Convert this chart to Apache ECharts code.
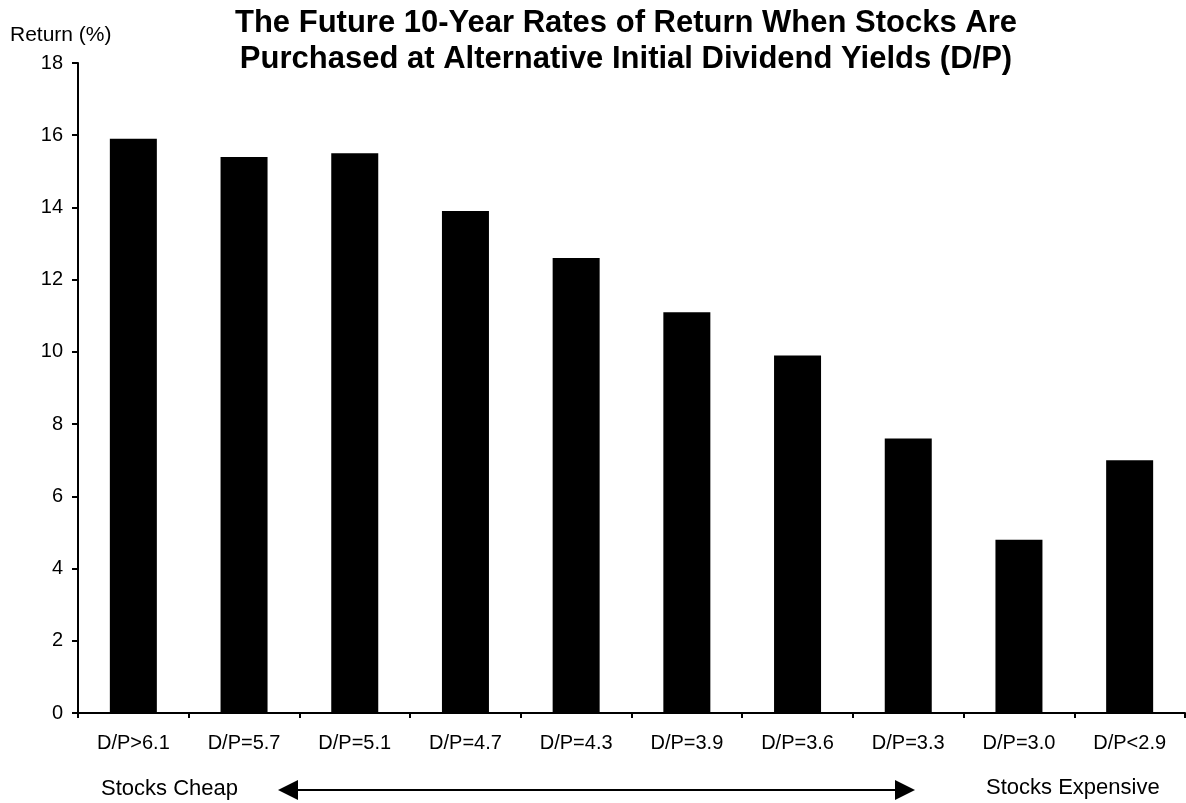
<!DOCTYPE html>
<html>
<head>
    <meta charset="UTF-8">
    <title>Returns by initial D/P</title>
    <script src="https://cdn.jsdelivr.net/npm/echarts@6/dist/echarts.min.js"></script>
    <style>
        html, body { margin: 0; padding: 0; background: #fff; }
        #chart { width: 1186px; height: 803px; }
    </style>
</head>
<body>
<div id="chart"></div>
<script>
    // data
    var categories = ['D/P>6.1', 'D/P=5.7', 'D/P=5.1', 'D/P=4.7', 'D/P=4.3',
                      'D/P=3.9', 'D/P=3.6', 'D/P=3.3', 'D/P=3.0', 'D/P<2.9'];
    var returns = [15.9, 15.4, 15.5, 13.9, 12.6, 11.1, 9.9, 7.6, 4.8, 7.0];
    var titleLines = ['The Future 10-Year Rates of Return When Stocks Are',
                      'Purchased at Alternative Initial Dividend Yields (D/P)'];

    var font = '"Liberation Sans", Arial, sans-serif';
    var chart = echarts.init(document.getElementById('chart'));

    var option = {
        backgroundColor: '#fff',
        animation: false,
        title: {
            text: titleLines.join('\n'),
            left: 626,
            textAlign: 'center',
            top: 5,
            padding: 0,
            textStyle: {
                fontFamily: font,
                fontSize: 31,
                fontWeight: 'bold',
                lineHeight: 36,
                color: '#000'
            }
        },
        grid: { left: 78, right: 1, top: 63, bottom: 90 },
        xAxis: {
            type: 'category',
            data: categories,
            axisLine: { lineStyle: { color: '#000', width: 2 } },
            axisTick: { show: true, length: 5, lineStyle: { color: '#000', width: 2 } },
            axisLabel: { color: '#000', fontFamily: font, fontSize: 20, margin: 20, interval: 0 }
        },
        yAxis: {
            type: 'value',
            min: 0,
            max: 18,
            interval: 2,
            splitLine: { show: false },
            axisLine: { show: true, lineStyle: { color: '#000', width: 2 } },
            axisTick: { show: true, length: 6, lineStyle: { color: '#000', width: 2 } },
            axisLabel: { color: '#000', fontFamily: font, fontSize: 20, margin: 15 }
        },
        series: [{
            type: 'bar',
            data: returns,
            barWidth: 47,
            itemStyle: { color: '#000' }
        }],
        graphic: [
            {
                type: 'text', left: 10, top: 25,
                style: { text: 'Return (%)', fontFamily: font, fontSize: 21, fill: '#000' }
            },
            {
                type: 'text', left: 101, top: 778,
                style: { text: 'Stocks Cheap', fontFamily: font, fontSize: 22, fill: '#000' }
            },
            {
                type: 'text', left: 986, top: 777,
                style: { text: 'Stocks Expensive', fontFamily: font, fontSize: 22, fill: '#000' }
            },
            {
                type: 'line',
                shape: { x1: 296, y1: 790, x2: 897, y2: 790 },
                style: { stroke: '#000', lineWidth: 2 }
            },
            {
                type: 'polygon',
                shape: { points: [[278, 790], [298, 780], [298, 800]] },
                style: { fill: '#000' }
            },
            {
                type: 'polygon',
                shape: { points: [[915, 790], [895, 780], [895, 800]] },
                style: { fill: '#000' }
            }
        ]
    };

    chart.setOption(option);
</script>
</body>
</html>
